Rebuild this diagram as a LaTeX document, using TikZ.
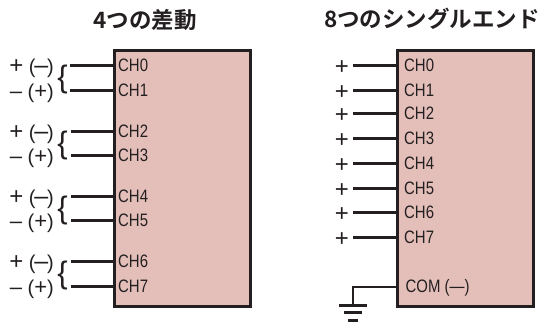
\documentclass[tikz,border=0pt]{standalone}
\usepackage{fontspec}
\setmainfont[FakeStretch=0.83]{Liberation Sans}
\newfontfamily\cjk{Noto Sans CJK JP Bold}
\newfontfamily\sgn{Liberation Sans}
\newcommand{\bigplus}{{\fontsize{24}{24}\selectfont +}}
\newcommand{\bigdash}{{\fontsize{22}{22}\selectfont –}}
\newcommand{\pardash}{{\fontsize{25}{20}\selectfont\kern-1.2pt –\kern-1.2pt}}
\newcommand{\parplus}{{\fontsize{22}{20}\selectfont +}}
\definecolor{boxfill}{HTML}{E4BFB9}
\definecolor{ink}{HTML}{231F20}
\tikzset{
  chipbox/.style={draw=ink,line width=3pt,fill=boxfill,anchor=north west,inner sep=0pt,minimum width=136pt,minimum height=255.5pt},
  wire/.style={draw=ink,line width=3pt},
  thinwire/.style={draw=ink,line width=2.5pt},
  chlabel/.style={anchor=west,inner sep=0pt,font=\fontsize{18}{18}\selectfont,text=ink},
  sign/.style={anchor=east,inner sep=0pt,font=\sgn\fontsize{20}{20}\selectfont,text=ink},
  titlelabel/.style={inner sep=0pt,font=\cjk\fontsize{22.5}{22.5}\selectfont,text=ink},
  bracelabel/.style={inner sep=0pt,font=\sgn\fontsize{31}{31}\selectfont,text=ink}
}
\begin{document}
\begin{tikzpicture}[x=1pt,y=-1pt]
\useasboundingbox (0,0) rectangle (539,324);
\node[titlelabel] (t1) at (145,20) {4つの差動};
\node[titlelabel] (t2) at (432,19) {8つのシングルエンド};
\node[chipbox] (A) at (112.5,49) {};
\node[chipbox] (B) at (395.8,49) {};
% left
\foreach \i/\y/\xs in {0/65/70,1/90/70,2/131/71,3/155/71,4/196/71,5/220/71,6/261/71,7/286/71}{
  \coordinate (LS\i) at (\xs,\y);
  \coordinate (LE\i) at (112.5,\y);
  \draw[wire] (LS\i) -- (LE\i);
  \node[chlabel] (LC\i) at (118,\y) {CH\i};
}
\foreach \i/\y in {0/68,2/134,4/199,6/264}{
  \node[sign] (LP\i) at (54,\y) {\bigplus\ (\pardash)};
}
\foreach \i/\y in {1/93,3/158,5/223,7/289}{
  \node[sign] (LM\i) at (54,\y) {\bigdash\ (\parplus)};
}
\foreach \y/\n in {79/a,145/b,210/c,275/d}{
  \node[bracelabel] (BR\n) at (62.5,\y) {\{};
}
% right
\foreach \i/\y in {0/65,1/90,2/113,3/138,4/163,5/188,6/212,7/237}{
  \coordinate (RS\i) at (353,\y);
  \coordinate (RE\i) at (395.8,\y);
  \draw[wire] (RS\i) -- (RE\i);
  \node[chlabel] (RC\i) at (404,\y) {CH\i};
  \node[sign] (RP\i) at (349,\y+3) {\bigplus};
}
\node[chlabel] (COM) at (405.5,287.5) {COM (—)};
\coordinate (G) at (353,305.6);
\coordinate (CE) at (395.8,287);
\draw[thinwire] (CE) -| (G);
\coordinate (G1L) at (339,305.6); \coordinate (G1R) at (367,305.6);
\coordinate (G2L) at (344,312.7); \coordinate (G2R) at (362,312.7);
\coordinate (G3L) at (348,320); \coordinate (G3R) at (358,320);
\draw[wire] (G1L) -- (G1R);
\draw[wire] (G2L) -- (G2R);
\draw[wire] (G3L) -- (G3R);
\end{tikzpicture}
\end{document}
